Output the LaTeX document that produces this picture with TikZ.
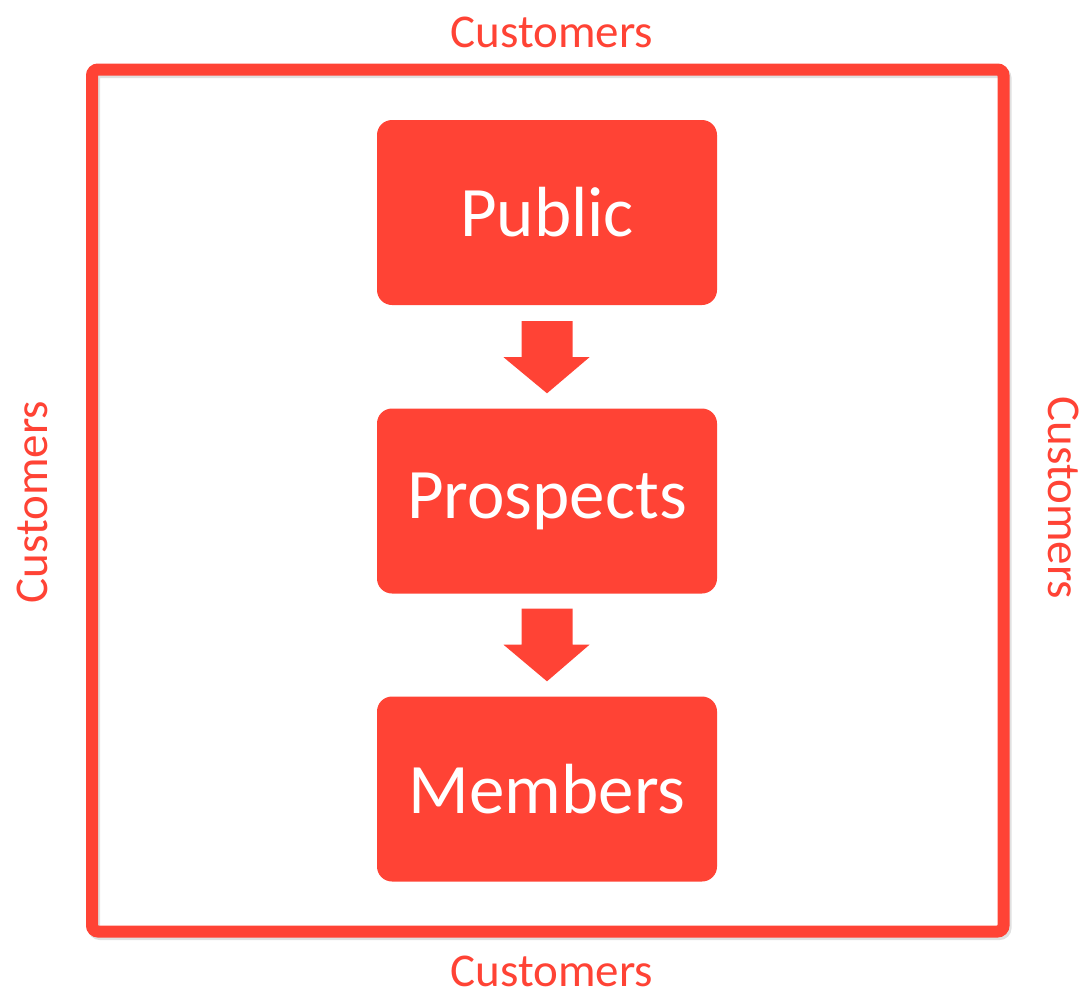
\documentclass[tikz,border=0pt]{standalone}
\usepackage{fontspec}
\setmainfont{Carlito}
\usetikzlibrary{calc}
\definecolor{cred}{RGB}{255,67,53}
\tikzset{
  stage/.style={fill=cred, rounded corners=15pt, minimum width=340pt, minimum height=185pt,
    inner sep=0pt, text=white, font=\fontsize{71}{85}\selectfont},
  lbl/.style={text=cred, font=\fontsize{47}{56}\selectfont, inner sep=0pt, anchor=base},
  blockarrow/.style={fill=cred, draw=none},
  frame/.style={draw=cred, line width=12pt, rounded corners=6pt},
  frameshadow/.style={draw=black!35, opacity=0.35, line width=12pt, rounded corners=6pt}
}
\begin{document}
\begin{tikzpicture}[x=1pt,y=-1pt]
\useasboundingbox (0,0) rectangle (1084,999);
% frame
\draw[frameshadow] (94,72) rectangle (1005.5,934);
\draw[frame] (92,69.5) rectangle (1003.5,931.5);
% labels
\node[lbl] (ctop) at (552,47) {Customers};
\node[lbl] (cbot) at (552,986) {Customers};
\node[lbl, rotate=90] (cleft) at (47,502) {Customers};
\node[lbl, rotate=-90] (cright) at (1048,498) {Customers};
% stages
\node[stage] (pub) at (547,212.5) {Public};
\node[stage] (pros) at (547,501) {Prospects};
\node[stage] (mem) at (547,789) {Members};
% block arrows
\fill[blockarrow]
  ($(pub.south)+(-25.5,16)$) -- ($(pub.south)+(25.5,16)$) -- ($(pub.south)+(25.5,52)$)
  -- ($(pub.south)+(42.5,52)$) -- ($(pros.north)+(0,-15)$) -- ($(pub.south)+(-43.5,52)$)
  -- ($(pub.south)+(-25.5,52)$) -- cycle;
\fill[blockarrow]
  ($(pros.south)+(-25.5,15)$) -- ($(pros.south)+(25.5,15)$) -- ($(pros.south)+(25.5,51)$)
  -- ($(pros.south)+(42.5,51)$) -- ($(mem.north)+(0,-15)$) -- ($(pros.south)+(-43.5,51)$)
  -- ($(pros.south)+(-25.5,51)$) -- cycle;
\end{tikzpicture}
\end{document}
